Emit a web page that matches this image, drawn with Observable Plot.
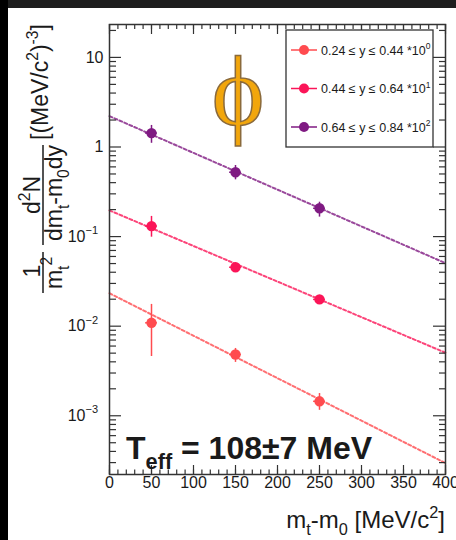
<!DOCTYPE html>
<html><head><meta charset="utf-8">
<script src="https://cdn.jsdelivr.net/npm/d3@7"></script>
<script src="https://cdn.jsdelivr.net/npm/@observablehq/plot@0.6"></script>
<style>
html,body{margin:0;padding:0;background:#000;width:456px;height:540px;overflow:hidden}
#topband{position:absolute;left:8px;top:0;width:448px;height:8px;background:#1e1e1e}
#chart{position:absolute;left:8px;top:8px;width:448px;height:532px;background:#fff}
#chart svg{display:block}
</style></head><body>
<div id="topband"></div><div id="chart"></div>
<script>
// ---- data ----
const mtBins = [50, 150, 250];                       // m_t - m_0 [MeV/c^2]
const seriesLabels = ["0.24 ≤ y ≤ 0.44", "0.44 ≤ y ≤ 0.64", "0.64 ≤ y ≤ 0.84"];
const seriesExponents = ["0", "1", "2"];
const seriesColors = ["#ff4b4f", "#fb1558", "#7f1a82"];
const yieldLow  = [0.0109, 0.00483, 0.00145];
const yieldMid  = [0.131, 0.0455, 0.0199];
const yieldHigh = [1.43, 0.523, 0.207];
const upLow  = [0.0175, 0.00564, 0.00177];
const dnLow  = [0.00459, 0.00394, 0.00115];
const upMid  = [0.168, 0.0505, 0.022];
const dnMid  = [0.0985, 0.0411, 0.0179];
const upHigh = [1.74, 0.622, 0.242];
const dnHigh = [1.1, 0.43, 0.165];
const xHalfWidth = [7, 7, 7];
const fitX = [0, 400];
const fitLow  = [0.0233, 0.000296];
const fitMid  = [0.196, 0.00505];
const fitHigh = [2.21, 0.0505];
const xTickValues = [0, 50, 100, 150, 200, 250, 300, 350, 400];
const yTickValues = [10, 1, 0.1, 0.01, 0.001];
const yTickBase = ["10", "1", "10", "10", "10"];
const yTickExp = ["", "", "−1", "−2", "−3"];
const annotation = {main: "T", sub: "eff", rest: " = 108±7 MeV"};

// ---- build tables ----
const yVals = [yieldLow, yieldMid, yieldHigh];
const ups = [upLow, upMid, upHigh];
const dns = [dnLow, dnMid, dnHigh];
const fitVals = [fitLow, fitMid, fitHigh];
const points = [], fits = [];
yVals.forEach((arr, s) => arr.forEach((v, i) => points.push({
  s, x: mtBins[i], y: v, hi: ups[s][i], lo: dns[s][i], xe: xHalfWidth[i], color: seriesColors[s]})));
fitVals.forEach((arr, s) => arr.forEach((v, i) => fits.push({s, x: fitX[i], y: v, color: seriesColors[s]})));

const xMinor = d3.range(0, 401, 10);
const yMinor = [];
for (let k = -4; k <= 1; k++) for (let m = 2; m <= 9; m++) { const v = m * Math.pow(10, k); if (v > 2.21e-4 && v < 23.3) yMinor.push(v); }

const W = 448, H = 532, mL = 101, mT = 16, mR = 11, mB = 66;
const fw = W - mL - mR, fh = H - mT - mB;
const axisColor = "#333";
const font = "'Liberation Sans', Arial, Helvetica, sans-serif";

const plot = Plot.plot({
  width: W, height: H, marginLeft: mL, marginTop: mT, marginRight: mR, marginBottom: mB,
  x: {domain: [0, 400], axis: null},
  y: {type: "log", domain: [2.21e-4, 23.3], axis: null},
  color: {type: "identity"},
  style: {fontFamily: font, background: "transparent", color: "#1a1a1a"},
  marks: [
    Plot.line(fits, {x: "x", y: "y", z: "s", stroke: "color", strokeWidth: 2, strokeDasharray: "3,2.4", strokeOpacity: 0.8}),
    Plot.ruleX(points, {x: "x", y1: "lo", y2: "hi", stroke: "color", strokeWidth: 1.5}),
    Plot.ruleY(points, {y: "y", x1: d => d.x - d.xe, x2: d => d.x + d.xe, stroke: "color", strokeWidth: 1.5}),
    Plot.dot(points, {x: "x", y: "y", r: 5.2, fill: "color", stroke: null}),
    // ticks inside frame
    Plot.tickX(xTickValues, {x: d => d, insetTop: fh - 9, stroke: axisColor, strokeWidth: 1.2}),
    Plot.tickX(xMinor, {x: d => d, insetTop: fh - 4.5, stroke: axisColor, strokeWidth: 1.2}),
    Plot.tickX(xTickValues, {x: d => d, insetBottom: fh - 10, stroke: axisColor, strokeWidth: 1.2}),
    Plot.tickX(xMinor, {x: d => d, insetBottom: fh - 5, stroke: axisColor, strokeWidth: 1.2}),
    Plot.tickY(yTickValues, {y: d => d, insetRight: fw - 12, stroke: axisColor, strokeWidth: 1.2}),
    Plot.tickY(yMinor, {y: d => d, insetRight: fw - 7, stroke: axisColor, strokeWidth: 1.2}),
    Plot.tickY(yTickValues, {y: d => d, insetLeft: fw - 12, stroke: axisColor, strokeWidth: 1.2}),
    Plot.tickY(yMinor, {y: d => d, insetLeft: fw - 6, stroke: axisColor, strokeWidth: 1.2}),
    Plot.frame({stroke: axisColor, strokeWidth: 1.5}),
    // tick labels
    Plot.text(xTickValues, {x: d => d, frameAnchor: "bottom", dy: 13, text: d => String(d), fontSize: 16, fill: "#1a1a1a"}),
    Plot.text(yTickValues, {y: d => d, frameAnchor: "left", dx: (-6), textAnchor: "end",
      text: (d, i) => yTickExp[i] ? "" : yTickBase[i], fontSize: 16, fill: "#1a1a1a"}),
    Plot.text(yTickValues, {y: d => d, frameAnchor: "left", dx: -24, textAnchor: "end",
      text: (d, i) => yTickExp[i] ? yTickBase[i] : "", fontSize: 16, fill: "#1a1a1a"}),
    Plot.text(yTickValues, {y: d => d, frameAnchor: "left", dx: -24, dy: -6, textAnchor: "start",
      text: (d, i) => yTickExp[i], fontSize: 11, fill: "#1a1a1a"})
  ]
});
document.getElementById("chart").appendChild(plot);

const svg = d3.select(plot);
function rich(parent, segs, attrs, fs) {
  const t = parent.append("text").attr("text-anchor", "start");
  Object.entries(attrs).forEach(([k, v]) => t.attr(k, v));
  t.attr("font-size", fs).attr("font-family", font).attr("fill", "#1a1a1a");
  let shift = 0;
  for (const s of segs) {
    const target = s.sup ? -0.42 * fs : s.sub ? 0.3 * fs : 0;
    t.append("tspan").attr("dy", target - shift).attr("font-size", (s.sup || s.sub) ? fs * 0.68 : fs).text(s.t);
    shift = target;
  }
  return t;
}

// phi logo
svg.append("text").attr("x", 230).attr("y", 117).attr("text-anchor", "middle")
  .attr("font-family", "'Liberation Serif', 'DejaVu Serif', serif").attr("font-size", 100)
  .attr("fill", "#f2a60c").attr("stroke", "#8a6a3c").attr("stroke-width", 1.5).text("ϕ");

// annotation
rich(svg, [{t: annotation.main}, {t: annotation.sub, sub: true}, {t: annotation.rest}],
  {x: 118, y: 451, "font-weight": "bold"}, 32);

// x label
rich(svg, [{t: "m"}, {t: "t", sub: true}, {t: "-m"}, {t: "0", sub: true}, {t: " [MeV/c"}, {t: "2", sup: true}, {t: "]"}],
  {x: 437, y: 520, "text-anchor": "end"}, 24);

// y label (rotated)
const g = svg.append("g").attr("transform", "translate(0,292) rotate(-90)");
const fs = 23;
rich(g, [{t: "1"}], {x: 29, y: 32, "text-anchor": "middle"}, fs);
rich(g, [{t: "m"}, {t: "t", sub: true}, {t: "2", sup: true}], {x: 27, y: 54, "text-anchor": "middle"}, fs);
g.append("line").attr("x1", 7).attr("x2", 48).attr("y1", 35).attr("y2", 35).attr("stroke", "#1a1a1a").attr("stroke-width", 1.5);
rich(g, [{t: "d"}, {t: "2", sup: true}, {t: "N"}], {x: 105, y: 32, "text-anchor": "middle"}, fs);
g.append("line").attr("x1", 55).attr("x2", 155).attr("y1", 35).attr("y2", 35).attr("stroke", "#1a1a1a").attr("stroke-width", 1.5);
rich(g, [{t: "dm"}, {t: "t", sub: true}, {t: "-m"}, {t: "0", sub: true}, {t: "dy"}], {x: 107, y: 54, "text-anchor": "middle"}, fs);
rich(g, [{t: "[(MeV/c"}, {t: "2", sup: true}, {t: ")"}, {t: "-3", sup: true}, {t: "]"}], {x: 160, y: 40, "text-anchor": "start"}, fs);

// legend
const lg = svg.append("g");
lg.append("rect").attr("x", 278).attr("y", 22).attr("width", 147).attr("height", 117)
  .attr("fill", "#fff").attr("stroke", axisColor).attr("stroke-width", 1.3);
seriesLabels.forEach((lab, i) => {
  const yy = 42 + i * 38.5;
  lg.append("line").attr("x1", 283).attr("x2", 309).attr("y1", yy).attr("y2", yy).attr("stroke", seriesColors[i]).attr("stroke-width", 1.5);
  lg.append("circle").attr("cx", 296).attr("cy", yy).attr("r", 5).attr("fill", seriesColors[i]);
  rich(lg, [{t: lab + " *10"}, {t: seriesExponents[i], sup: true}], {x: 313, y: yy + 4.5, "text-anchor": "start", "font-weight": 500}, 12.5);
});
</script>
</body></html>
